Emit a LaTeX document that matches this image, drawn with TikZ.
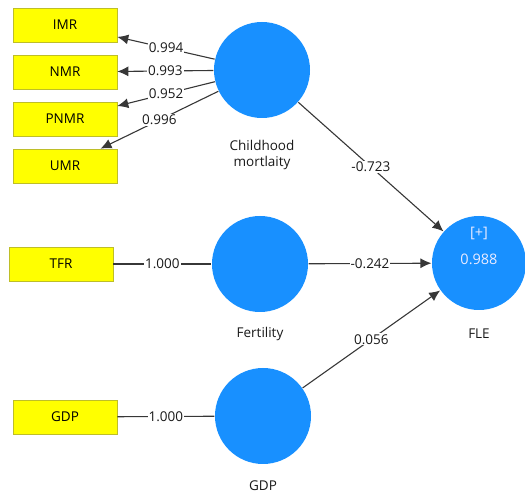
\documentclass[tikz,border=0pt]{standalone}
\usepackage{fontspec}
\usetikzlibrary{arrows.meta}
\setmainfont{Open Sans}
\definecolor{lvblue}{RGB}{24,144,255}
\definecolor{mvyellow}{RGB}{255,255,0}
\definecolor{mvedge}{RGB}{190,190,40}
\definecolor{pathgray}{RGB}{55,55,55}
\begin{document}
\begin{tikzpicture}[x=1pt,y=1pt,line width=1.1pt,>={Latex[length=11pt,width=10pt]},
 font=\fontsize{13.5}{16}\selectfont,
 indicator/.style={draw=mvedge,line width=.6pt,fill=mvyellow,minimum width=104pt,minimum height=34pt,inner sep=0pt},
 latent/.style={circle,fill=lvblue,minimum size=96pt,inner sep=0pt},
 path/.style={draw=pathgray},
 coef/.style={fill=white,inner sep=1pt,text=black!90}]
\useasboundingbox (0,0) rectangle (525,498);
% latent variables
\node[latent] (cm) at (262,428) {};
\node[latent] (fert) at (260,234) {};
\node[latent] (gdp) at (263,82) {};
\node[latent,minimum size=94pt] (fle) at (479,235) {};
\node (cmlab) at (262,343) [align=center,text=black!90] {Childhood\\mortlaity};
\node (fertlab) at (260,164) [text=black!90] {Fertility};
\node (gdplab) at (263,12) [text=black!90] {GDP};
\node (flelab) at (479,164) [text=black!90] {FLE};
\node (flesign) at (479,265) [text=white!92!blue,font=\fontsize{14.5}{16}\selectfont] {[+]};
\node (flersq) at (479,239) [text=white!92!blue,font=\fontsize{14.5}{16}\selectfont] {0.988};
% indicators
\node[indicator] (imr) at (65,473) {IMR};
\node[indicator] (nmr) at (65,426) {NMR};
\node[indicator] (pnmr) at (65,379) {PNMR};
\node[indicator] (umr) at (65,332) {UMR};
\node[indicator] (tfr) at (61,234) {TFR};
\node[indicator] (gdpi) at (65,81) {GDP};
% outer loadings
\draw[path,->] (cm) -- node[coef] {0.994} (imr);
\draw[path,->] (cm) -- node[coef] {0.993} (nmr);
\draw[path,->] (cm) -- node[coef] {0.952} (pnmr);
\draw[path,->] (cm) -- node[coef] {0.996} (umr);
\draw[path] (tfr) -- node[coef] {1.000} (fert);
\draw[path] (gdpi) -- node[coef] {1.000} (gdp);
% structural paths
\draw[path,->] (cm) -- node[coef] {-0.723} (fle);
\draw[path,->] (fert) -- node[coef] {-0.242} (fle);
\draw[path,->] (gdp) -- node[coef] {0.056} (fle);
\end{tikzpicture}
\end{document}
